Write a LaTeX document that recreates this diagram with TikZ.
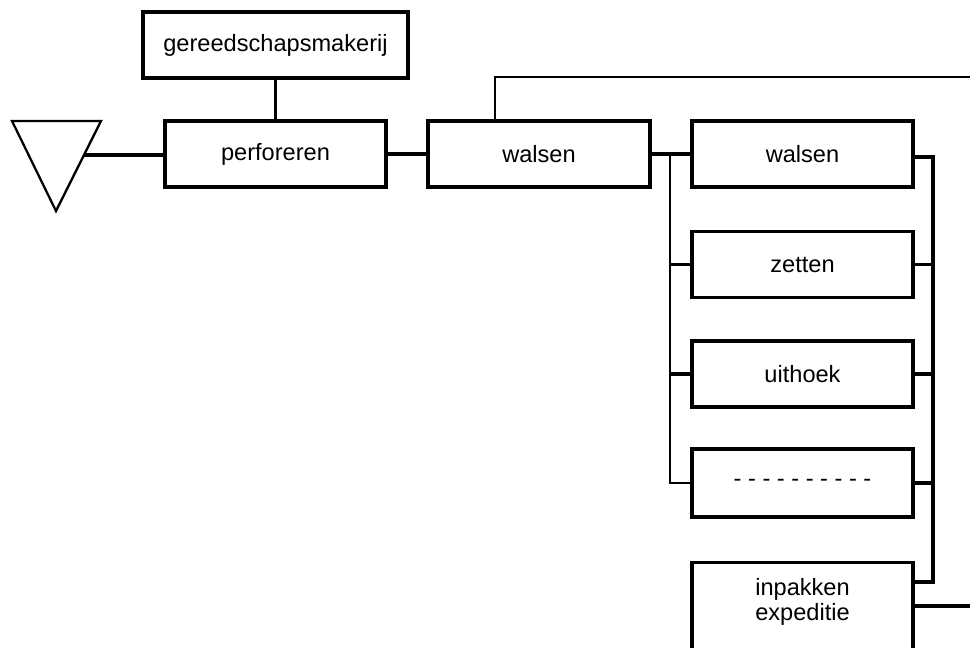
\documentclass[tikz,border=0pt]{standalone}
\usepackage{fontspec}
\setmainfont{Liberation Sans}
\begin{document}
\begin{tikzpicture}[x=0.75pt,y=-0.75pt,
  box/.style={draw=black, line width=2.6pt, fill=white, rectangle, inner sep=0pt,
    minimum width=221*0.75pt, minimum height=66*0.75pt, align=center,
    font=\fontsize{17.7}{18.75}\selectfont},
  txt/.style={inner sep=0pt, align=center, font=\fontsize{17.7}{18.75}\selectfont},
  conn/.style={draw=black, line width=2.6pt},
  thin/.style={draw=black, line width=2.1pt}]
\useasboundingbox (0,0) rectangle (970,648);
\clip (0,0) rectangle (970,648);

% triangle
\draw[line width=1.7pt, line join=miter] (12,121) -- (101,121) -- (56,211) -- cycle;
\coordinate (tri) at (84,155);

% boxes
\node[box, minimum width=265*0.75pt] (gm) at (275.5,45) {gereedschapsmakerij};
\node[box] (perf) at (275.5,154) {perforeren};
\node[box, minimum width=222*0.75pt] (wal1) at (539,154) {walsen};
\node[box] (wal2) at (802.5,154) {walsen};
\node[box] (zet) at (802.5,264.5) {zetten};
\node[box] (uit) at (802.5,374) {uithoek};
\node[box, minimum height=68*0.75pt] (dsh) at (802.5,483) {- - - - - - - - - -};
\node[box, minimum height=110*0.75pt, anchor=north] (inp) at (802.5,561) {};
\node[txt] (inpt) at (802.5,602) {inpakken\\expeditie};

% connectors
\draw[conn] (gm.south) -- (perf.north);
\draw[conn] (tri) -- (tri -| perf.west);
\draw[conn] (perf.east) -- (wal1.west);
\draw[conn] (wal1.east) -- (wal2.west);

% top line from walsen
\coordinate (topend) at (970,77);
\draw[thin] (wal1.north -| 495,0) -- (495,77) -- (topend);

% left bus
\coordinate (lb) at (670,155);
\draw[thin] (lb) |- (dsh.west);
\draw[conn] (lb |- zet.west) -- (zet.west);
\draw[conn] (lb |- uit.west) -- (uit.west);

% right bus
\coordinate (rbtop) at (933,157);
\coordinate (rbbot) at (933,582);
\draw[conn] (wal2.east |- rbtop) -- (rbtop) -- (rbbot) -- (rbbot -| inp.east);
\draw[conn] (zet.east) -- (zet.east -| rbtop);
\draw[conn] (uit.east) -- (uit.east -| rbtop);
\draw[conn] (dsh.east) -- (dsh.east -| rbtop);

% output of inpakken
\coordinate (outend) at (970,606);
\draw[conn] (inp.east |- outend) -- (outend);
\end{tikzpicture}
\end{document}
